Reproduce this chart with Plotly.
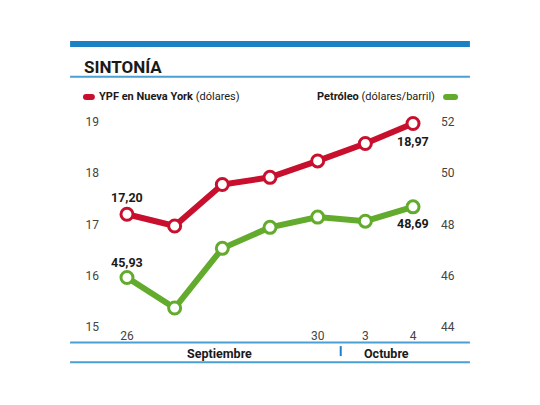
import plotly.graph_objects as go

# datos
dias = ['26', '27', '28', '29', '30', '3', '4']
etiquetas_x = ['26', '', '', '', '30', '3', '4']
ypf = [17.20, 16.97, 17.78, 17.92, 18.24, 18.58, 18.97]
petroleo = [45.93, 44.74, 47.07, 47.89, 48.29, 48.13, 48.69]
ticks_ypf = [15, 16, 17, 18, 19]
ticks_petroleo = [44, 46, 48, 50, 52]

ROJO = '#c8102e'
VERDE = '#62ab2c'
AZUL = '#1b80c4'
AZUL_CLARO = '#4a9fd3'
NEGRO = '#1a1a1a'
FUENTE = 'Roboto, sans-serif'


def coma(v):
	return f'{v:.2f}'.replace('.', ',')


def texto(x, y, t, size=12, xanchor='center', **kw):
	fig.add_annotation(x=x, y=y, xref='paper', yref='paper', text=t, showarrow=False,
		xanchor=xanchor, yanchor='middle', font=dict(family=FUENTE, size=size, color=NEGRO), **kw)


def linea(x0, x1, y0, y1, color, width):
	fig.add_shape(type='line', xref='paper', yref='paper', x0=x0, x1=x1, y0=y0, y1=y1,
		line=dict(color=color, width=width))


def pastilla(x0, x1, color):
	# trazo con extremos redondeados para la leyenda
	dx = 0.0176
	y0, y1 = 1.046, 1.074
	linea(x0 + dx / 2, x1 - dx / 2, (y0 + y1) / 2, (y0 + y1) / 2, color, 6)
	for cx in (x0, x1 - dx):
		fig.add_shape(type='circle', xref='paper', yref='paper', x0=cx, x1=cx + dx, y0=y0, y1=y1,
			fillcolor=color, line_width=0)


fig = go.Figure()
fig.add_trace(go.Scatter(
	x=dias, y=ypf, mode='lines+markers', name='YPF',
	line=dict(color=ROJO, width=6),
	marker=dict(size=12, color='white', line=dict(color=ROJO, width=3)),
	cliponaxis=False,
))
fig.add_trace(go.Scatter(
	x=dias, y=petroleo, mode='lines+markers', name='Petróleo', yaxis='y2',
	line=dict(color=VERDE, width=6),
	marker=dict(size=12, color='white', line=dict(color=VERDE, width=3)),
	cliponaxis=False,
))

# valores destacados (x por indice de categoria)
ult = len(dias) - 1
for i, serie, yref, dy in [(0, ypf, 'y', 17), (ult, ypf, 'y', -18),
		(0, petroleo, 'y2', 15), (ult, petroleo, 'y2', -17)]:
	fig.add_annotation(x=i, y=serie[i], yref=yref, text=f'<b>{coma(serie[i])}</b>',
		showarrow=False, xanchor='center', yanchor='middle', yshift=dy,
		font=dict(family=FUENTE, size=12.5, color=NEGRO))

# titulo y leyenda
texto(-0.053, 1.198, '<b>SINTONÍA</b>', size=17, xanchor='left')
texto(-0.009, 1.06, '<b>YPF en Nueva York</b> (dólares)', size=11, xanchor='left')
texto(0.991, 1.06, '<b>Petróleo</b> (dólares/barril)', size=11, xanchor='right')
pastilla(-0.05, -0.015, ROJO)
pastilla(1.009, 1.053, VERDE)

# meses
texto(0.35, -0.12, '<b>Septiembre</b>', size=12.5)
texto(0.844, -0.12, '<b>Octubre</b>', size=12.5)

# filetes
fig.add_shape(type='rect', xref='paper', yref='paper', x0=-0.088, x1=1.088, y0=1.290, y1=1.318,
	fillcolor=AZUL, line_width=0)
linea(-0.088, 1.088, 1.153, 1.153, AZUL_CLARO, 2)
linea(-0.088, 1.088, -0.072, -0.072, AZUL_CLARO, 2)
linea(-0.088, 1.088, -0.163, -0.163, AZUL_CLARO, 2)
linea(0.708, 0.708, -0.088, -0.134, AZUL, 2)

fig.update_layout(
	width=540, height=405,
	margin=dict(l=92, r=108, t=102, b=86),
	paper_bgcolor='white', plot_bgcolor='white',
	showlegend=False,
	font=dict(family=FUENTE, size=12, color='#444444'),
	xaxis=dict(
		type='category', range=[-0.566, 6.566], tickvals=dias, ticktext=etiquetas_x,
		showgrid=False, zeroline=False, showline=False, ticks='',
		tickfont=dict(size=12, color='#444444'),
	),
	yaxis=dict(
		range=[15, 19.234], tickvals=ticks_ypf, showgrid=False, zeroline=False,
		showline=False, ticks='', tickfont=dict(size=12, color='#444444'),
	),
	yaxis2=dict(
		range=[44, 52.469], tickvals=ticks_petroleo, overlaying='y', side='right',
		showgrid=False, zeroline=False, showline=False, ticks='',
		tickfont=dict(size=12, color='#444444'),
	),
)

fig.write_html('out.html')
